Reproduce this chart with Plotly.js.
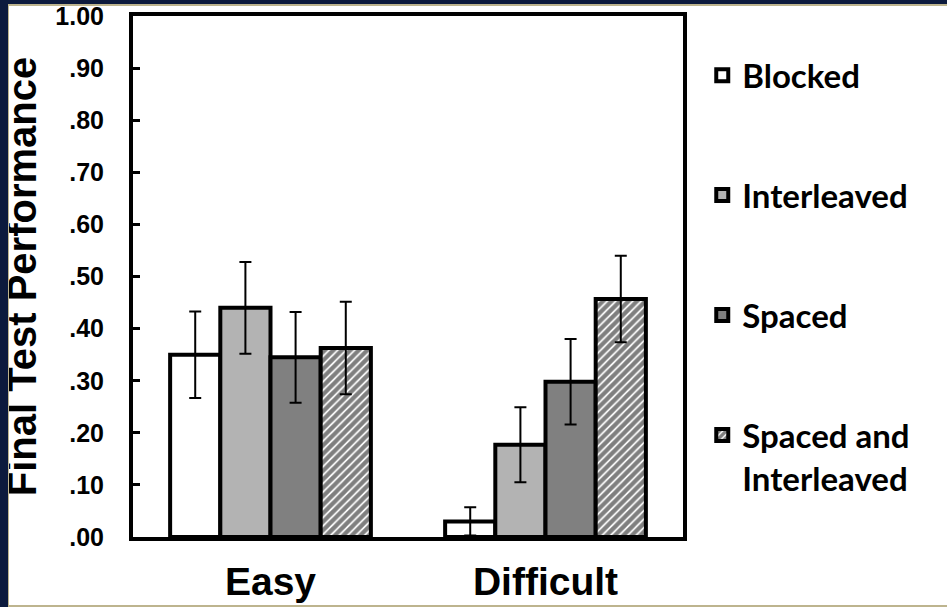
<!DOCTYPE html>
<html>
<head>
<meta charset="utf-8">
<script src="https://cdn.plot.ly/plotly-3.0.1.min.js"></script>
<style>
  html, body { margin: 0; padding: 0; width: 947px; height: 607px; overflow: hidden; background: #ffffff; }
  #chart { position: absolute; left: 0; top: 0; width: 947px; height: 607px; }
  .navyL { position: absolute; left: 0; top: 0; width: 8px; height: 607px; background: #0c1a3d; z-index: 5; }
  .navyT { position: absolute; left: 0; top: 0; width: 947px; height: 4px; background: #0c1a3d; z-index: 5; }
  .tanL { position: absolute; left: 8px; top: 4px; width: 1px; height: 603px; background: #bdb48e; z-index: 5; }
  .tanT { position: absolute; left: 8px; top: 4px; width: 939px; height: 2px; background: #bdb48e; z-index: 5; }
  .tanB { position: absolute; left: 8px; top: 605px; width: 939px; height: 2px; background: #bdb48e; z-index: 5; }
</style>
</head>
<body>
<div id="chart"></div>
<div class="navyL"></div><div class="navyT"></div><div class="tanL"></div><div class="tanT"></div><div class="tanB"></div>
<script>
const categories = ['Easy', 'Difficult'];
const seriesNames = ['Blocked', 'Interleaved', 'Spaced', 'Spaced and<br>Interleaved'];
const blocked = [0.35, 0.03];
const interleaved = [0.44, 0.177];
const spaced = [0.345, 0.298];
const spacedInterleaved = [0.363, 0.457];
const blockedErr = [0.083, 0.027];
const interleavedErr = [0.088, 0.072];
const spacedErr = [0.087, 0.082];
const spacedInterleavedErr = [0.089, 0.083];
const yTickVals = [0, 0.1, 0.2, 0.3, 0.4, 0.5, 0.6, 0.7, 0.8, 0.9, 1.0];
const yTickText = ['.00', '.10', '.20', '.30', '.40', '.50', '.60', '.70', '.80', '.90', '1.00'];

const values = [blocked, interleaved, spaced, spacedInterleaved];
const errs = [blockedErr, interleavedErr, spacedErr, spacedInterleavedErr];
const fills = ['#ffffff', '#b3b3b3', '#808080', '#ffffff'];

const traces = values.map((v, i) => {
  const marker = { color: fills[i], line: { color: '#000000', width: 4 } };
  if (i === 3) {
    marker.pattern = { shape: '/', fgcolor: '#000000', bgcolor: '#ffffff', size: 6, solidity: 0.7, fillmode: 'overlay' };
  }
  return {
    type: 'bar',
    name: seriesNames[i],
    legendgroup: 'g' + i,
    x: categories,
    y: v,
    marker: marker,
    error_y: { type: 'data', array: errs[i], visible: true, color: '#000000', thickness: 2, width: 6 },
    hoverinfo: 'skip'
  };
});

const layout = {
  width: 947,
  height: 607,
  paper_bgcolor: '#ffffff',
  plot_bgcolor: '#ffffff',
  margin: { l: 133, r: 264, t: 16, b: 70 },
  barmode: 'group',
  bargap: 0.27,
  bargroupgap: 0,
  showlegend: true,
  legend: {
    x: 1.035, xanchor: 'left', y: 0.94, yanchor: 'top',
    font: { family: 'Lato, sans-serif', size: 33, color: '#000000', weight: 'bold' },
    tracegroupgap: 74,
    valign: 'top',
    bgcolor: 'rgba(0,0,0,0)'
  },
  xaxis: {
    type: 'category',
    showline: true, linecolor: '#000000', linewidth: 4, mirror: true,
    ticks: '', showgrid: false, zeroline: false,
    tickfont: { family: 'Liberation Sans, Arial, sans-serif', size: 39, color: '#000000', weight: 'bold' },
    ticklabelstandoff: 7
  },
  yaxis: {
    range: [0, 1.0005],
    showline: true, linecolor: '#000000', linewidth: 4, mirror: true,
    ticks: 'inside', ticklen: 7, tickwidth: 3, tickcolor: '#000000',
    tickvals: yTickVals, ticktext: yTickText,
    showgrid: false, zeroline: false,
    tickfont: { family: 'Liberation Sans, Arial, sans-serif', size: 25, color: '#000000', weight: 'bold' },
    ticklabelstandoff: 20,
    title: { text: 'Final Test Performance', standoff: 10,
      font: { family: 'Liberation Sans, Arial, sans-serif', size: 40, color: '#000000', weight: 'bold' } }
  }
};

Plotly.newPlot('chart', traces, layout, { displayModeBar: false, staticPlot: true });
</script>
</body>
</html>
